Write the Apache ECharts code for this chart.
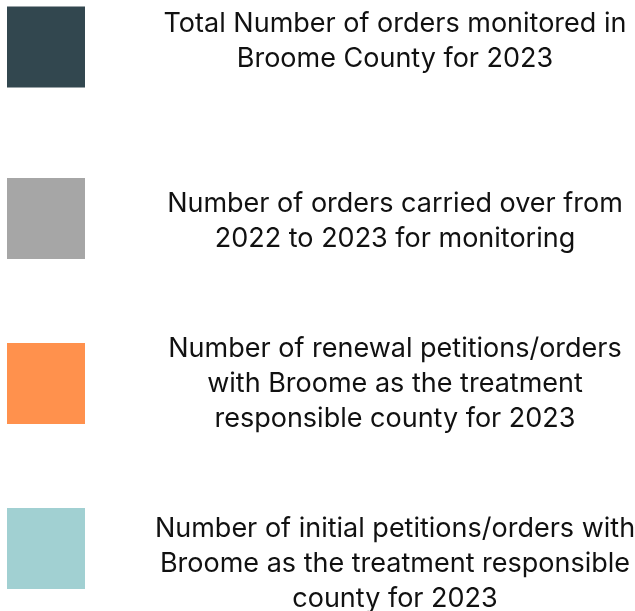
<!DOCTYPE html>
<html>
<head>
<meta charset="utf-8">
<script src="https://cdn.jsdelivr.net/npm/echarts@6/dist/echarts.min.js"></script>
<style>
  html, body { margin: 0; padding: 0; background: #fff; }
  #main { width: 635px; height: 611px; }
</style>
</head>
<body>
<div id="main"></div>
<script>
// legend entries, top to bottom
var seriesNames = [
  'Total Number of orders monitored in\nBroome County for 2023',
  'Number of orders carried over from\n2022 to 2023 for monitoring',
  'Number of renewal petitions/orders\nwith Broome as the treatment\nresponsible county for 2023',
  'Number of initial petitions/orders with\nBroome as the treatment responsible\ncounty for 2023'
];
var seriesColors = ['#32474f', '#a6a6a6', '#ff914d', '#a1d0d2'];

// 每个图例的位置（上边距）和文字偏移
var legendTops = [6.5, 178, 335.5, 508];
var textPads = [[0, 0, 11, 0], [6, 0, 0, 0], [1, 0, 0, 0], [30, 0, 0, 0]];

var myChart = echarts.init(document.getElementById('main'));

var series = [];
var legends = [];
for (var i = 0; i < seriesNames.length; i++) {
  series.push({
    name: seriesNames[i],
    type: 'bar',
    data: [],
    itemStyle: { color: seriesColors[i] }
  });
  legends.push({
    data: [seriesNames[i]],
    orient: 'vertical',
    left: 7,
    top: legendTops[i],
    padding: 0,
    icon: 'rect',
    itemWidth: 78,
    itemHeight: 81,
    selectedMode: false,
    formatter: function (name) {
      return name.split('\n').map(function (s) { return '{t|' + s + '}'; }).join('\n');
    },
    textStyle: {
      padding: textPads[i],
      rich: {
        // 文字起点固定在图标右侧5px，用宽度把中心推到x≈395
        t: {
          width: 610,
          align: 'center',
          fontSize: 27,
          lineHeight: 35,
          fontFamily: 'Inter',
          color: '#111111'
        }
      }
    }
  });
}

var option = {
  animation: false,
  backgroundColor: '#ffffff',
  grid: { left: -10, right: -10, top: -10, bottom: -10 },
  xAxis: { type: 'category', show: false, data: [] },
  yAxis: { type: 'value', show: false },
  legend: legends,
  series: series
};
myChart.setOption(option);
</script>
</body>
</html>
